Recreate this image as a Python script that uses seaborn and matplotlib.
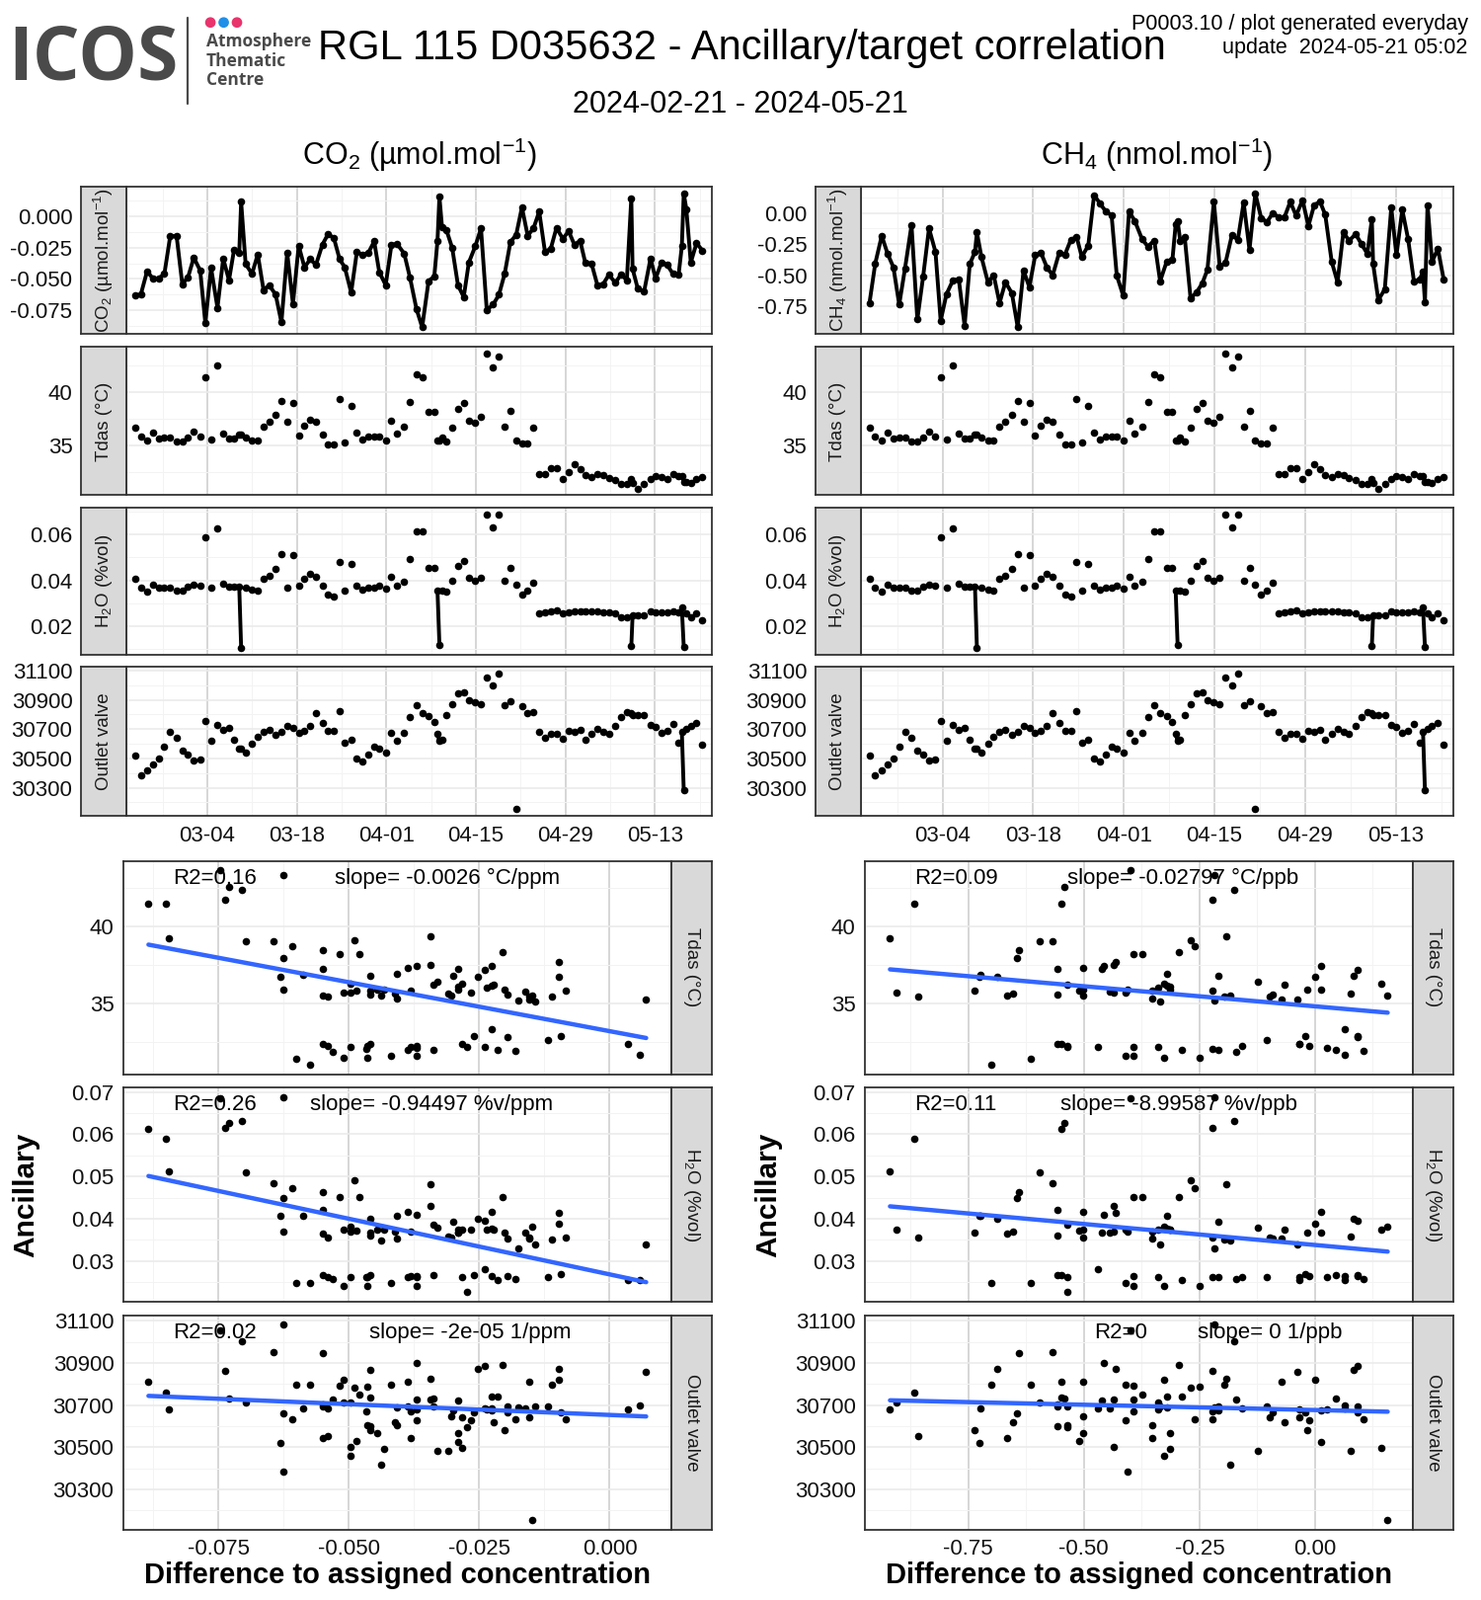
import pandas as pd
import matplotlib
matplotlib.use("Agg")
import matplotlib.pyplot as plt
import matplotlib.dates as mdates
from matplotlib.ticker import MultipleLocator, AutoMinorLocator, FormatStrFormatter
from matplotlib.patches import Ellipse
from matplotlib.lines import Line2D
import seaborn as sns

# -----------------------------
# Data
# -----------------------------

period_start = "2024-02-21"
period_end = "2024-05-21"

# days since 2024-02-21 00:00
days = [0.7, 1.6, 2.6, 3.5, 4.4, 5.3, 6.2, 7.2, 8.1, 9.0,
        9.9, 10.9, 11.7, 12.6, 13.6, 14.5, 15.4, 16.2, 17.0, 17.3,
        18.0, 19.0, 19.9, 20.8, 21.7, 22.7, 23.6, 24.5, 25.4, 26.3,
        27.2, 28.1, 29.0, 30.0, 30.9, 31.8, 32.7, 33.5, 34.5, 35.4,
        36.3, 37.2, 38.1, 38.9, 39.9, 40.8, 41.7, 42.8, 43.7, 44.7,
        45.6, 46.6, 47.5, 48.0, 48.3, 48.7, 49.4, 50.3, 51.2, 52.1,
        52.9, 53.9, 54.8, 55.7, 56.7, 57.6, 58.5, 59.4, 60.3, 61.2,
        62.1, 63.0, 63.9, 64.8, 65.7, 66.6, 67.6, 68.5, 69.4, 70.3,
        71.1, 72.1, 73.0, 73.9, 74.8, 75.8, 76.7, 77.6, 78.3, 78.5,
        79.3, 80.3, 81.3, 82.1, 83.0, 83.9, 84.8, 85.7, 86.2, 86.5,
        86.9, 87.6, 88.5, 89.4]

# flagged injections (excluded from the correlation)
spike_days = [17.3, 48.3, 78.3, 86.5]

co2 = [-0.0631, -0.0626, -0.0438, -0.0497, -0.0497, -0.0459, -0.0162, -0.0155, -0.0541, -0.0485,
       -0.0330, -0.0433, -0.0850, -0.0412, -0.0729, -0.0338, -0.0510, -0.0265, -0.0291, 0.0113,
       -0.0381, -0.0459, -0.0304, -0.0588, -0.0549, -0.0626, -0.0845, -0.0291, -0.0698, -0.0235,
       -0.0407, -0.0343, -0.0387, -0.0227, -0.0142, -0.0175, -0.0343, -0.0407, -0.0608, -0.0283,
       -0.0309, -0.0291, -0.0201, -0.0446, -0.0549, -0.0227, -0.0222, -0.0299, -0.0490, -0.0737,
       -0.0884, -0.0518, -0.0479, -0.0196, 0.0155, -0.0085, -0.0111, -0.0253, -0.0549, -0.0644,
       -0.0369, -0.0240, -0.0098, -0.0747, -0.0704, -0.0626, -0.0459, -0.0206, -0.0149, 0.0070,
       -0.0155, -0.0098, 0.0036, -0.0283, -0.0260, -0.0093, -0.0180, -0.0119, -0.0227, -0.0196,
       -0.0369, -0.0381, -0.0549, -0.0541, -0.0466, -0.0531, -0.0464, -0.0510, 0.0142, -0.0420,
       -0.0575, -0.0600, -0.0338, -0.0497, -0.0369, -0.0387, -0.0459, -0.0464, -0.0240, 0.0180,
       0.0057, -0.0369, -0.0214, -0.0273]

ch4 = [-0.726, -0.405, -0.183, -0.327, -0.436, -0.737, -0.444, -0.097, -0.857, -0.509,
       -0.123, -0.313, -0.867, -0.653, -0.541, -0.535, -0.906, -0.410, -0.313, -0.157,
       -0.353, -0.556, -0.502, -0.724, -0.556, -0.645, -0.919, -0.462, -0.596, -0.340,
       -0.321, -0.436, -0.502, -0.321, -0.334, -0.217, -0.191, -0.353, -0.261, 0.144,
       0.078, 0.013, -0.018, -0.502, -0.666, 0.013, -0.065, -0.209, -0.269, -0.222,
       -0.549, -0.392, -0.374, -0.091, -0.065, -0.222, -0.196, -0.687, -0.640, -0.567,
       -0.457, 0.091, -0.431, -0.400, -0.175, -0.217, 0.084, -0.295, 0.157, -0.039,
       -0.073, 0.000, -0.034, -0.034, 0.091, -0.021, 0.104, -0.104, 0.065, 0.091,
       -0.013, -0.392, -0.556, -0.157, -0.222, -0.170, -0.250, -0.327, -0.052, -0.410,
       -0.700, -0.614, 0.044, -0.340, 0.026, -0.209, -0.549, -0.535, -0.470, -0.718,
       0.065, -0.392, -0.287, -0.535]

tdas = [36.69, 35.86, 35.49, 36.26, 35.67, 35.83, 35.77, 35.43, 35.43, 35.80,
        36.38, 35.89, 41.44, 35.61, 42.58, 36.17, 35.67, 35.67, 36.07, 36.07,
        35.83, 35.55, 35.49, 36.84, 37.24, 37.94, 39.20, 37.24, 38.99, 35.98,
        36.93, 37.48, 37.27, 36.10, 35.12, 35.15, 39.36, 35.28, 38.71, 36.26,
        35.61, 35.86, 35.86, 35.86, 35.49, 37.39, 36.17, 36.78, 39.08, 41.69,
        41.47, 38.16, 38.16, 35.55, 35.55, 35.80, 35.40, 36.72, 38.47, 38.99,
        37.39, 37.18, 37.70, 43.62, 42.36, 43.34, 36.78, 38.31, 35.46, 35.25,
        35.25, 36.72, 32.36, 32.36, 32.88, 32.88, 31.87, 32.58, 33.31, 32.79,
        32.24, 32.12, 32.33, 32.24, 32.02, 31.81, 31.47, 31.47, 31.87, 31.56,
        31.01, 31.41, 31.93, 32.18, 32.09, 31.93, 32.33, 32.20, 32.18, 31.63,
        31.63, 31.56, 31.93, 32.12]

h2o = [0.0406, 0.0370, 0.0349, 0.0382, 0.0370, 0.0367, 0.0367, 0.0356, 0.0356, 0.0372,
       0.0379, 0.0375, 0.0589, 0.0370, 0.0626, 0.0386, 0.0373, 0.0373, 0.0373, 0.0106,
       0.0369, 0.0360, 0.0356, 0.0406, 0.0420, 0.0448, 0.0513, 0.0367, 0.0509, 0.0375,
       0.0407, 0.0430, 0.0417, 0.0377, 0.0339, 0.0329, 0.0481, 0.0353, 0.0473, 0.0375,
       0.0358, 0.0367, 0.0367, 0.0375, 0.0365, 0.0417, 0.0375, 0.0392, 0.0492, 0.0615,
       0.0612, 0.0452, 0.0452, 0.0353, 0.0120, 0.0355, 0.0351, 0.0400, 0.0462, 0.0485,
       0.0410, 0.0396, 0.0413, 0.0685, 0.0632, 0.0688, 0.0399, 0.0452, 0.0382, 0.0339,
       0.0353, 0.0389, 0.0254, 0.0262, 0.0266, 0.0269, 0.0257, 0.0262, 0.0264, 0.0264,
       0.0264, 0.0263, 0.0266, 0.0262, 0.0262, 0.0257, 0.0240, 0.0240, 0.0113, 0.0247,
       0.0247, 0.0247, 0.0266, 0.0262, 0.0262, 0.0262, 0.0266, 0.0262, 0.0280, 0.0110,
       0.0254, 0.0240, 0.0254, 0.0226]

outlet = [30520, 30382, 30416, 30461, 30502, 30582, 30684, 30643, 30552, 30530,
          30484, 30493, 30757, 30620, 30730, 30695, 30711, 30627, 30566, 30566,
          30541, 30600, 30648, 30684, 30693, 30659, 30680, 30723, 30711, 30677,
          30689, 30725, 30809, 30741, 30691, 30689, 30823, 30605, 30630, 30498,
          30480, 30525, 30582, 30566, 30541, 30673, 30620, 30673, 30780, 30861,
          30809, 30793, 30748, 30666, 30620, 30630, 30798, 30870, 30945, 30952,
          30900, 30884, 30873, 31055, 31002, 31080, 30866, 30889, 30155, 30855,
          30809, 30820, 30680, 30643, 30666, 30666, 30632, 30691, 30684, 30695,
          30627, 30668, 30702, 30684, 30668, 30725, 30786, 30820, 30810, 30798,
          30798, 30798, 30730, 30714, 30677, 30691, 30734, 30605, 30684, 30282,
          30700, 30725, 30741, 30593]

date_ticks = ["2024-03-04", "2024-03-18", "2024-04-01", "2024-04-15", "2024-04-29", "2024-05-13"]

r2_co2 = ["R2=0.16", "R2=0.26", "R2=0.02"]
slope_co2 = ["slope= -0.0026 °C/ppm", "slope= -0.94497 %v/ppm", "slope= -2e-05 1/ppm"]
r2_ch4 = ["R2=0.09", "R2=0.11", "R2=0"]
slope_ch4 = ["slope= -0.02797 °C/ppb", "slope= -8.99587 %v/ppb", "slope= 0 1/ppb"]

df = pd.DataFrame({"day": days, "co2": co2, "ch4": ch4, "tdas": tdas,
                   "h2o": h2o, "outlet": outlet})
df["time"] = pd.Timestamp(period_start) + pd.to_timedelta(df["day"], unit="D")
df["spike"] = df["day"].isin(spike_days)
# consecutive samples closer than ~8 h are joined by a line
df["seg"] = (df["day"].diff() > 0.35).cumsum()
corr = df[~df["spike"]]

# -----------------------------
# Style
# -----------------------------

sns.set_style("white")
plt.rcParams["font.family"] = ["Liberation Sans", "DejaVu Sans"]
plt.rcParams["mathtext.fontset"] = "custom"
plt.rcParams["mathtext.rm"] = "Liberation Sans"
plt.rcParams["mathtext.it"] = "Liberation Sans:italic"
plt.rcParams["mathtext.bf"] = "Liberation Sans:bold"
plt.rcParams["axes.unicode_minus"] = False
plt.rcParams["text.color"] = "black"

fig = plt.figure(figsize=(15, 16.2), dpi=100)

W, H = 1450.0, 1567.0


def box(x0, y0, x1, y1):
    return [x0 / W, 1 - y1 / H, (x1 - x0) / W, (y1 - y0) / H]


def expand(values, frac=0.05):
    lo, hi = min(values), max(values)
    pad = (hi - lo) * frac
    return lo - pad, hi + pad


def panel_style(ax, show_x, ypad=3, ylen=4):
    ax.set_facecolor("white")
    ax.set_axisbelow(True)
    ax.grid(which="major", axis="x", color="#CFCFCF", lw=1.2)
    ax.grid(which="major", axis="y", color="#EBEBEB", lw=1.2)
    ax.grid(which="minor", color="#F3F3F3", lw=0.7)
    for s in ax.spines.values():
        s.set_color("#333333")
        s.set_linewidth(1.3)
    ax.tick_params(which="major", length=4, color="#333333", width=1,
                   labelsize=16, labelcolor="#111111", pad=3)
    ax.tick_params(axis="y", which="major", length=ylen, pad=ypad)
    ax.tick_params(which="minor", length=0)
    if not show_x:
        ax.tick_params(axis="x", which="both", length=0, labelbottom=False)
    ax.set_xlabel("")
    ax.set_ylabel("")


def strip(rect, label, rotation):
    sax = fig.add_axes(rect)
    sax.set_facecolor("#D9D9D9")
    sax.set_xticks([])
    sax.set_yticks([])
    for s in sax.spines.values():
        s.set_color("#333333")
        s.set_linewidth(1.3)
    sax.text(0.5, 0.5, label, rotation=rotation, ha="center", va="center",
             fontsize=13.5, color="#1A1A1A", transform=sax.transAxes)


ts_rows = [(183, 327), (340, 485), (497, 641), (653, 799)]
sc_rows = [(843, 1052), (1065, 1275), (1288, 1498)]

columns = [
    dict(gas="co2", label="CO$_2$ (µmol.mol$^{-1}$)", major=0.025, fmt="%.3f",
         ts_x=(124, 697), ts_strip=(79, 124), sc_x=(121, 657), sc_strip=(657, 697),
         r2=r2_co2, slope=slope_co2, r2_x=[0.166, 0.166, 0.166],
         slope_x=[0.591, 0.562, 0.634], anc_x=25),
    dict(gas="ch4", label="CH$_4$ (nmol.mol$^{-1}$)", major=0.25, fmt="%.2f",
         ts_x=(843, 1423), ts_strip=(798, 843), sc_x=(847, 1383), sc_strip=(1383, 1423),
         r2=r2_ch4, slope=slope_ch4, r2_x=[0.166, 0.166, 0.466],
         slope_x=[0.58, 0.573, 0.739], anc_x=752),
]

anc_vars = [("tdas", "Tdas (°C)", 5, "%d"),
            ("h2o", "H$_2$O (%vol)", 0.02, "%.2f"),
            ("outlet", "Outlet valve", 200, "%d")]
sc_major = {"tdas": 5, "h2o": 0.01, "outlet": 200}


def y_locator(var, step):
    if var == "outlet":
        return MultipleLocator(step, offset=100)
    return MultipleLocator(step)


t0 = mdates.date2num(pd.Timestamp(period_start))
major_dates = mdates.date2num(pd.to_datetime(date_ticks))
minor_dates = list(major_dates - 7) + [major_dates[-1] + 7]

for col in columns:
    gas = col["gas"]
    strip_pt = (col["ts_strip"][1] - col["ts_strip"][0]) * (1500 / W) * 0.72

    # ---- time series panels ----
    ts_vars = [(gas, col["label"], col["major"], col["fmt"])] + anc_vars
    for i, (var, label, major, fmt) in enumerate(ts_vars):
        y0, y1 = ts_rows[i]
        ax = fig.add_axes(box(col["ts_x"][0], y0, col["ts_x"][1], y1))
        if var == gas:
            sns.lineplot(data=df, x="time", y=var, sort=False, estimator=None,
                         color="black", lw=2.8, ax=ax)
        else:
            sns.lineplot(data=df, x="time", y=var, units="seg", estimator=None,
                         color="black", lw=2.8, ax=ax)
        sns.scatterplot(data=df, x="time", y=var, color="black", s=30,
                        linewidth=0, ax=ax, zorder=3)
        ax.set_xlim(t0 - 0.6, t0 + 90.9)
        ax.set_ylim(*expand(df[var]))
        ax.set_xticks(major_dates)
        ax.set_xticks(minor_dates, minor=True)
        ax.xaxis.set_major_formatter(mdates.DateFormatter("%m-%d"))
        ax.yaxis.set_major_locator(y_locator(var, major))
        ax.yaxis.set_minor_locator(AutoMinorLocator(2))
        ax.yaxis.set_major_formatter(FormatStrFormatter(fmt))
        panel_style(ax, show_x=(i == len(ts_vars) - 1), ypad=strip_pt + 6, ylen=0)
        strip(box(col["ts_strip"][0], y0, col["ts_strip"][1], y1), label, 90)

    # ---- correlation panels ----
    for i, (var, label, _, fmt) in enumerate(anc_vars):
        y0, y1 = sc_rows[i]
        ax = fig.add_axes(box(col["sc_x"][0], y0, col["sc_x"][1], y1))
        sns.scatterplot(data=corr, x=gas, y=var, color="black", s=30,
                        linewidth=0, ax=ax, zorder=3)
        sns.regplot(data=corr, x=gas, y=var, scatter=False, ci=None,
                    color="#3366FF", line_kws={"lw": 3.2, "zorder": 4}, ax=ax)
        ax.set_xlim(*expand(corr[gas]))
        ax.set_ylim(*expand(corr[var]))
        ax.xaxis.set_major_locator(MultipleLocator(col["major"]))
        ax.xaxis.set_minor_locator(AutoMinorLocator(2))
        ax.xaxis.set_major_formatter(FormatStrFormatter(col["fmt"]))
        ax.yaxis.set_major_locator(y_locator(var, sc_major[var]))
        ax.yaxis.set_minor_locator(AutoMinorLocator(2))
        ax.yaxis.set_major_formatter(FormatStrFormatter(fmt))
        panel_style(ax, show_x=(i == len(anc_vars) - 1))
        ax.text(col["r2_x"][i], 0.919, col["r2"][i], transform=ax.transAxes,
                ha="center", va="center", fontsize=16, zorder=5)
        ax.text(col["slope_x"][i], 0.919, col["slope"][i], transform=ax.transAxes,
                ha="center", va="center", fontsize=16, zorder=5)
        strip(box(col["sc_strip"][0], y0, col["sc_strip"][1], y1), label, -90)

    xc = (col["ts_x"][0] + col["ts_x"][1]) / 2
    fig.text(xc / W, 1 - 152 / H, col["label"], ha="center", va="center", fontsize=22)
    xs = (col["sc_x"][0] + col["sc_x"][1]) / 2
    fig.text(xs / W, 1 - 1543 / H, "Difference to assigned concentration",
             ha="center", va="center", fontsize=21, fontweight="bold")
    fig.text(col["anc_x"] / W, 1 - 1170 / H, "Ancillary", rotation=90,
             ha="center", va="center", fontsize=21.5, fontweight="bold")

# -----------------------------
# Header
# -----------------------------

fig.text(726 / W, 1 - 47 / H, "RGL 115 D035632 - Ancillary/target correlation",
         ha="center", va="center", fontsize=30)
fig.text(725 / W, 1 - 103 / H, period_start + " - " + period_end,
         ha="center", va="center", fontsize=22)
fig.text(1437 / W, 1 - 24 / H, "P0003.10 / plot generated everyday",
         ha="right", va="center", fontsize=15.5)
fig.text(1437 / W, 1 - 47 / H, "update  2024-05-21 05:02",
         ha="right", va="center", fontsize=15.5)

# ICOS logo
fig.text(8 / W, 1 - 59 / H, "ICOS", ha="left", va="center", fontsize=54,
         fontweight="bold", color="#4A4A4A", family=["Open Sans", "DejaVu Sans"])
fig.add_artist(Line2D([184 / W, 184 / W], [1 - 17 / H, 1 - 102 / H],
                      transform=fig.transFigure, color="#4A4A4A", lw=1.6))
for cx, c in zip([206, 219, 232], ["#E8336D", "#1E8FE6", "#E8336D"]):
    fig.add_artist(Ellipse((cx / W, 1 - 22 / H), 9 / W, 9 / H,
                           transform=fig.transFigure, color=c))
for k, word in enumerate(["Atmosphere", "Thematic", "Centre"]):
    fig.text(202 / W, 1 - (41 + 18.5 * k) / H, word, ha="left", va="center",
             fontsize=12.5, fontweight="bold", color="#4A4A4A",
             family=["Open Sans", "DejaVu Sans"])

fig.savefig("out.png", dpi=100)
